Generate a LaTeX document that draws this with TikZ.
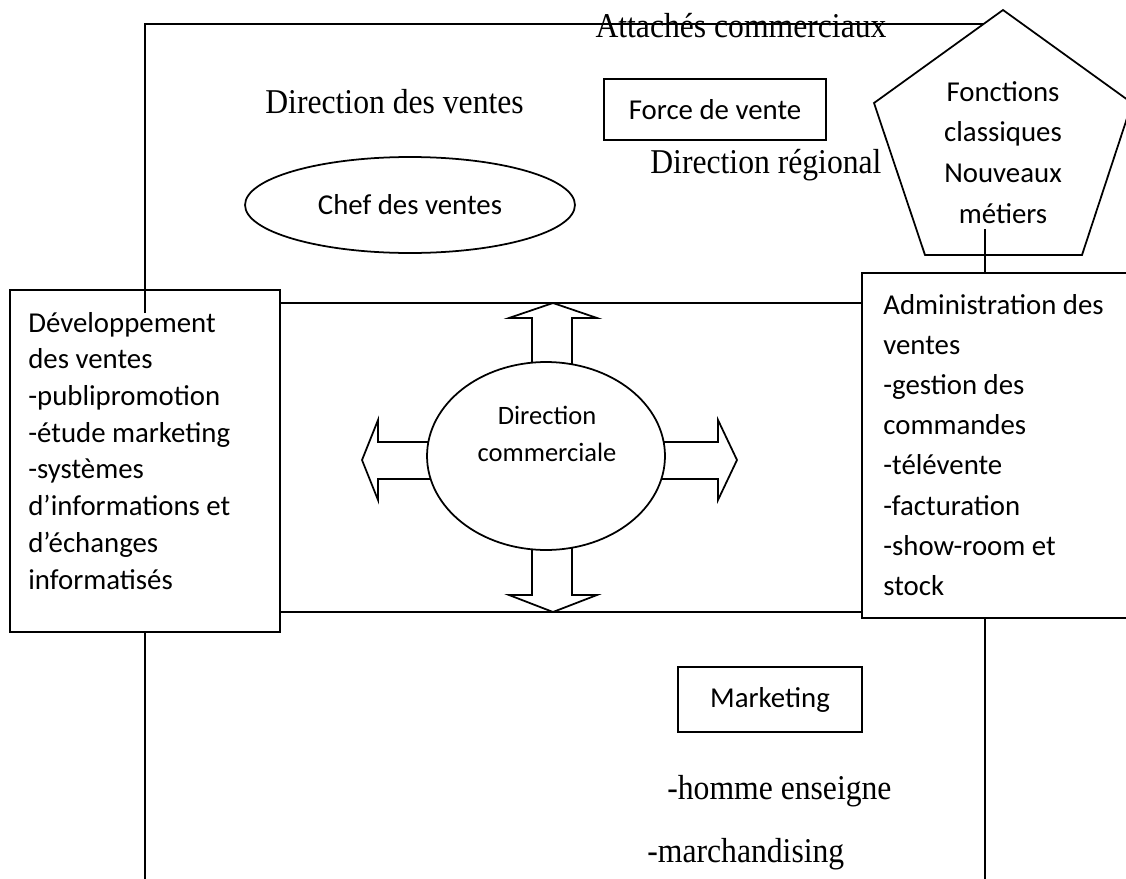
\documentclass[tikz,border=0pt]{standalone}
\usepackage{fontspec}
\setmainfont[FakeStretch=0.91]{Liberation Serif}
\setsansfont{Carlito}
\usetikzlibrary{shapes.geometric}

\tikzset{
  trait/.style={line width=1pt},
  cadre/.style={trait, draw, inner sep=0pt, font=\sffamily\fontsize{16.4pt}{22pt}\selectfont},
  ovale/.style={cadre, ellipse, fill=white},
  texte/.style={inner sep=0pt, anchor=base, text width=4.8cm},
  libre/.style={inner sep=0pt, anchor=base west, font=\rmfamily\fontsize{19.8pt}{24pt}\selectfont},
  fleche/.style={trait, draw, fill=white, line join=miter}
}

\begin{document}
\begin{tikzpicture}[x=0.02cm, y=-0.02cm]
\useasboundingbox (0,0) rectangle (1126,879);

% cadres du haut
\node[cadre, minimum width=4.44cm, minimum height=1.22cm] (force) at (715,109.5) {Force de vente};
\node[ovale, minimum width=6.6cm, minimum height=1.92cm] (chef) at (410,205) {Chef des ventes};
\node[cadre, minimum width=3.68cm, minimum height=1.3cm] (mkt) at (770,699.5) {Marketing};

% pentagone
\draw[trait, fill=white] (1003,10) -- (1132,103) -- (1082,255) -- (925,255) -- (874,103) -- cycle;
\node[texte, align=flush center, text width=3cm, font=\sffamily\fontsize{16.4pt}{23.2pt}\selectfont] (fonct) at (1003,101) {Fonctions\\classiques\\Nouveaux\\métiers};

% cadres lateraux
\node[cadre, fill=white, minimum width=5.4cm, minimum height=6.84cm] (dev) at (145,461) {};
\node[cadre, fill=white, minimum width=5.36cm, minimum height=6.9cm] (adm) at (996,445.5) {};
\node[texte, anchor=base west, align=flush left, font=\sffamily\fontsize{16.4pt}{20.9pt}\selectfont] (devtxt) at (28,332) {Développement\\des ventes\\-publipromotion\\-étude marketing\\-systèmes\\d’informations et\\d’échanges\\informatisés};
\node[texte, anchor=base west, align=flush left, font=\sffamily\fontsize{16.4pt}{22.9pt}\selectfont] (admtxt) at (883,314) {Administration des\\ventes\\-gestion des\\commandes\\-télévente\\-facturation\\-show-room et\\stock};

% fleches
\draw[fleche] (553,303) -- (597,318) -- (572,318) -- (572,380) -- (532,380) -- (532,318) -- (509,318) -- cycle;
\draw[fleche] (553,612) -- (597,595) -- (572,595) -- (572,530) -- (532,530) -- (532,595) -- (509,595) -- cycle;
\draw[fleche] (362,460) -- (378,420) -- (378,442) -- (450,442) -- (450,479) -- (378,479) -- (378,500) -- cycle;
\draw[fleche] (737,460) -- (718,420) -- (718,442) -- (640,442) -- (640,479) -- (718,479) -- (718,500) -- cycle;
\node[ovale, minimum width=4.76cm, minimum height=3.76cm] (dc) at (546,456) {};
\node[texte, align=flush center, text width=4cm, font=\sffamily\fontsize{15.1pt}{21.5pt}\selectfont] (dctxt) at (547,424) {Direction\\commerciale};

% liaisons
\coordinate (haut) at (553,303);
\coordinate (milieu) at (553,612);
\coordinate (coin) at (145,313);
\coordinate (bord) at (983.6,24);
\coordinate (fin) at (985,229);
\coordinate (bas) at (0,890);
\draw[trait] (coin) |- (bord);
\draw[trait] (dev.east |- haut) -- (adm.west |- haut);
\draw[trait] (dev.east |- milieu) -- (adm.west |- milieu);
\draw[trait] (fin) -- (fin |- adm.north);
\draw[trait] (dev.south) -- (dev.south |- bas);
\draw[trait] (adm.south -| fin) -- (bas -| fin);

% textes libres
\node[libre, anchor=base] (attach) at (741,37) {Attachés commerciaux};
\node[libre] (dirv) at (265,113) {Direction des ventes};
\node[libre] (dirr) at (650,173) {Direction régional};
\node[libre] (homme) at (667,799) {-homme enseigne};
\node[libre] (march) at (647,862) {-marchandising};
\end{tikzpicture}
\end{document}
